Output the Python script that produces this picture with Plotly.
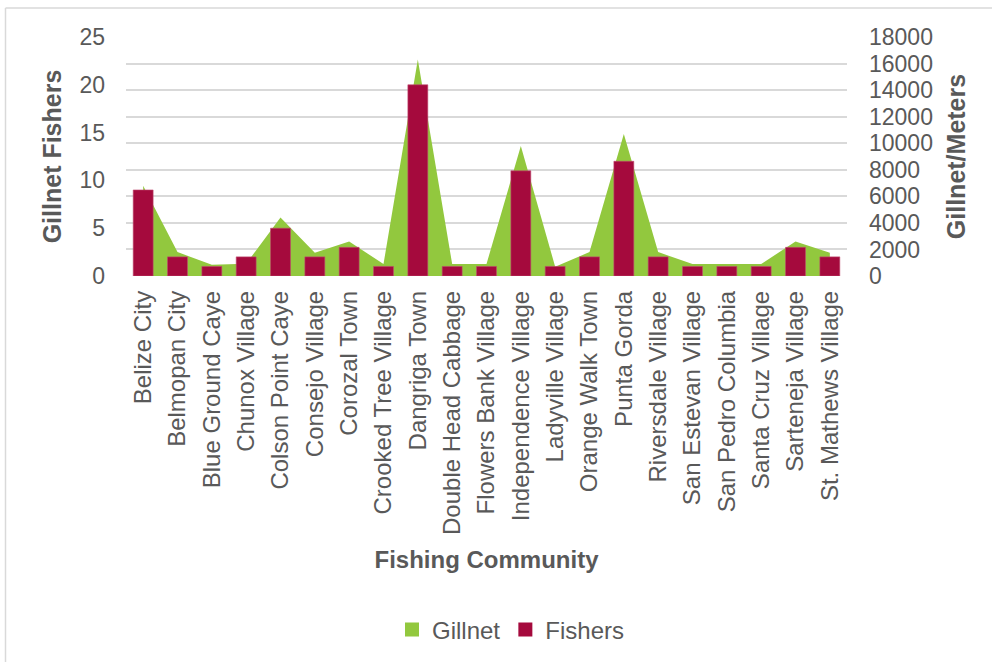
import plotly.graph_objects as go

communities = ["Belize City", "Belmopan City", "Blue Ground Caye", "Chunox Village",
               "Colson Point Caye", "Consejo Village", "Corozal Town", "Crooked Tree Village",
               "Dangriga Town", "Double Head Cabbage", "Flowers Bank Village",
               "Independence Village", "Ladyville Village", "Orange Walk Town", "Punta Gorda",
               "Riversdale Village", "San Estevan Village", "San Pedro Columbia",
               "Santa Cruz Village", "Sarteneja Village", "St. Mathews Village"]
fishers = [9, 2, 1, 2, 5, 2, 3, 1, 20, 1, 1, 11, 1, 2, 12, 2, 1, 1, 1, 3, 2]
gillnet_m = [6800, 1800, 850, 925, 4400, 1750, 2600, 900, 16300, 900, 900, 9800, 700,
             1800, 10700, 1800, 900, 900, 900, 2600, 1750]

left_ticks = [0, 5, 10, 15, 20, 25]
right_ticks = [0, 2000, 4000, 6000, 8000, 10000, 12000, 14000, 16000, 18000]

GREEN = "#92C83E"
RED = "#A50A3D"
GRAY = "#595959"
FONT = "Liberation Sans, Arial, sans-serif"

fig = go.Figure()
fig.add_trace(go.Scatter(
    x=communities, y=gillnet_m, name="Gillnet", mode="lines",
    fill="tozeroy", fillcolor=GREEN, line=dict(width=0, color=GREEN),
    yaxis="y", hoverinfo="x+y", showlegend=False, legendgroup="g"))
fig.add_trace(go.Bar(
    x=communities, y=fishers, name="Fishers", yaxis="y2", showlegend=False,
    legendgroup="f", marker=dict(color=RED, line=dict(color="#C04A6E", width=0.6))))
# legend swatches (squares, as in the reference)
fig.add_trace(go.Bar(
    x=[None], y=[None], name="Gillnet", yaxis="y2", legendgroup="g", hoverinfo="skip",
    marker=dict(color=GREEN, line=dict(color=GREEN, width=3))))
fig.add_trace(go.Bar(
    x=[None], y=[None], name="Fishers", yaxis="y2", legendgroup="f", hoverinfo="skip",
    marker=dict(color=RED, line=dict(color=RED, width=3))))

L, R, T, B = 126, 847, 37, 277
W, H = 992, 662
pw, ph = R - L, B - T

def px(x):
    return (x - L) / pw

def py(y):
    return (B - y) / ph

fig.update_layout(
    width=W, height=H,
    margin=dict(l=L, r=W - R, t=T, b=H - B, pad=0),
    paper_bgcolor="white", plot_bgcolor="white",
    font=dict(family=FONT, color=GRAY, size=23),
    bargap=0.42, barmode="overlay",
    showlegend=True,
    legend=dict(orientation="h", x=px(511), xanchor="center", y=py(630), yanchor="middle",
                font=dict(size=24, color=GRAY), traceorder="normal",
                itemwidth=30, itemsizing="constant"),
    xaxis=dict(type="category", tickangle=-90, tickfont=dict(size=24, color=GRAY),
               showgrid=False, ticks="", showline=False, ticklabelstandoff=9,
               title=dict(text="<b>Fishing Community</b>", font=dict(size=24, color=GRAY),
                          standoff=17)),
    yaxis=dict(side="right", range=[0, 18000], tickvals=right_ticks,
               ticktext=[str(v) for v in right_ticks],
               showgrid=True, gridcolor="#D9D9D9", gridwidth=1.5, zeroline=False,
               ticks="", tickfont=dict(size=23, color=GRAY), ticklabelstandoff=21,
               title=dict(text="<b>Gillnet/Meters</b>", font=dict(size=25, color=GRAY),
                          standoff=15)),
    yaxis2=dict(side="left", overlaying="y", range=[0, 25], tickvals=left_ticks,
                showgrid=False, zeroline=False, ticks="",
                tickfont=dict(size=23, color=GRAY), ticklabelstandoff=20,
                title=dict(text="<b>Gillnet Fishers</b>", font=dict(size=25, color=GRAY),
                           standoff=10)),
    shapes=[
        dict(type="line", xref="paper", yref="paper", x0=px(5.5), x1=px(W + 5),
             y0=py(8), y1=py(8), line=dict(color="#D9D9D9", width=1.5)),
        dict(type="line", xref="paper", yref="paper", x0=px(5.5), x1=px(5.5),
             y0=py(8), y1=py(H + 5), line=dict(color="#D9D9D9", width=1.5)),
    ],
)

fig.write_html("out.html")
